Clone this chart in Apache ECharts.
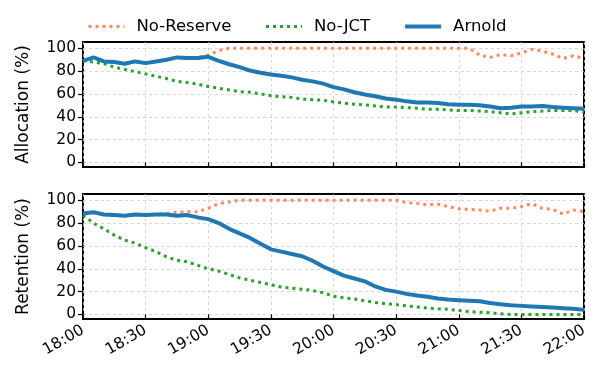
<!DOCTYPE html>
<html>
<head>
<meta charset="utf-8">
<script src="https://cdn.jsdelivr.net/npm/echarts@6/dist/echarts.min.js"></script>
<style>
    html, body {margin: 0; padding: 0; background: #fff;}
    #chart {width: 597px; height: 383px;}
</style>
</head>
<body>
<div id="chart"></div>
<script>
    // x ticks (every 30 min), samples every 5 min from 18:00
    var tickLabels = ['18:00', '18:30', '19:00', '19:30', '20:00', '20:30', '21:00', '21:30', '22:00'];
    var stepMin = 5;
    var yTicks = [0, 20, 40, 60, 80, 100];
    var seriesNames = ['No-Reserve', 'No-JCT', 'Arnold'];

    // Allocation (%)
    var allocNoReserve = [89, 92, 88.5, 88, 86.5, 88.5, 87, 88.5, 90, 92, 91.5, 92, 94, 98, 100, 100, 100, 100, 100, 100, 100, 100, 100, 100, 100,
        100, 100, 100, 100, 100, 100, 100, 100, 100, 100, 100, 100, 100, 94, 92, 94.5, 93.5, 96, 99, 97.5, 95, 91, 93.5, 91];
    var allocNoJCT = [89, 88, 86.5, 83.5, 81.5, 79.5, 77.5, 75.5, 73.5, 71, 70, 68.5, 66.5, 65, 63.5, 62, 61.5, 60, 58.5, 57.5, 57, 55.5, 55, 54.5, 53,
        52, 51, 50.5, 49.5, 48.5, 48.5, 48, 47.5, 46.5, 46.5, 46, 45.5, 45.5, 45, 44.5, 43.5, 42.5, 43.5, 44.5, 45, 45.5, 45.5, 45.5, 44];
    var allocArnold = [89, 92, 88.5, 88, 86.5, 88.5, 87, 88.5, 90, 92, 91.5, 91.5, 92.5, 89, 86, 83.5, 80.5, 78.5, 77, 76, 74.5, 72.5, 71, 69, 66,
        64, 61.5, 59.5, 58, 56, 55, 53.5, 52.5, 52.5, 52, 51, 50.5, 50.5, 50, 49, 47.5, 48, 49, 49, 49.5, 48.5, 48, 47.5, 47];

    // Retention (%)
    var retNoReserve = [88.5, 89.5, 87.5, 87, 86.5, 87.5, 87, 87.5, 88.5, 89.5, 90, 90, 93, 97, 98.5, 100, 100, 100, 100, 100, 100, 100, 100, 100, 100,
        100, 100, 100, 100, 100, 100, 98, 97.5, 96, 96.5, 94.5, 92.5, 92, 91.5, 90.5, 93, 93, 94.5, 97, 93, 92, 88, 91.5, 90];
    var retNoJCT = [87, 80, 75, 69.5, 65, 62.5, 58.5, 55, 50.5, 47.5, 46, 43, 40, 38, 35, 32, 30, 28, 26, 24, 23, 22, 21, 19, 16,
        14.5, 13.5, 12, 10.5, 9.5, 8.5, 7.5, 6.5, 5.5, 5, 4.5, 3.5, 2.5, 2, 1.5, 0.5, 0, 0, 0, 0, 0, 0, 0, 0];
    var retArnold = [88.5, 89.5, 87.5, 87, 86.5, 87.5, 87, 87.5, 87.5, 86.5, 87, 85, 83.5, 80, 75, 71, 67, 62, 57, 55, 53, 51, 47, 42, 38,
        34, 31.5, 29, 24.5, 21.5, 20, 18, 16.5, 15.5, 14, 13, 12.5, 12, 11.5, 10, 9, 8, 7.5, 7, 6.5, 6, 5.5, 5, 4];

    var colors = ['#fb8a5e', '#2ca02c', '#1f77b4'];
    var lineWidths = [3, 3, 4];
    var font = 'DejaVu Sans';

    function toPairs(arr) {
        var out = [];
        for (var i = 0; i < arr.length; i++) {
            out.push([i * stepMin, arr[i]]);
        }
        return out;
    }

    function lineStyleOf(i) {
        return {
            color: colors[i],
            width: lineWidths[i],
            type: i < 2 ? [3, 4] : 'solid',
            cap: 'butt'
        };
    }

    function makeSeries(names, datas, axisIdx) {
        var list = [];
        for (var i = 0; i < names.length; i++) {
            list.push({
                name: names[i],
                type: 'line',
                xAxisIndex: axisIdx,
                yAxisIndex: axisIdx,
                data: toPairs(datas[i]),
                showSymbol: false,
                symbol: 'none',
                animation: false,
                z: 3 + i,
                lineStyle: lineStyleOf(i),
                itemStyle: {color: colors[i]}
            });
        }
        return list;
    }

    var legendData = [];
    for (var k = 0; k < seriesNames.length; k++) {
        legendData.push({name: seriesNames[k], lineStyle: lineStyleOf(k)});
    }

    var gridLine = {show: true, lineStyle: {color: '#cccccc', width: 0.8, type: [3, 3]}};

    function xAxisOf(idx, showLabel) {
        return {
            type: 'value',
            gridIndex: idx,
            min: 0,
            max: 240,
            interval: 30,
            axisLine: {show: false},
            axisTick: {show: true, inside: false, length: 5, lineStyle: {color: '#000', width: 1.2}},
            axisLabel: {
                show: showLabel,
                rotate: 30,
                margin: 10,
                fontFamily: font,
                fontSize: 15.5,
                color: '#000',
                formatter: function (v) { return tickLabels[v / 30]; }
            },
            splitLine: gridLine
        };
    }

    function yAxisOf(idx, title) {
        return {
            type: 'value',
            gridIndex: idx,
            min: -4,
            max: 105.5,
            name: title,
            nameLocation: 'middle',
            nameGap: 51,
            nameTextStyle: {fontFamily: font, fontSize: 17, color: '#000'},
            axisLine: {show: false},
            axisTick: {show: true, inside: false, length: 5, customValues: yTicks, lineStyle: {color: '#000', width: 1.2}},
            axisLabel: {fontFamily: font, fontSize: 15.5, color: '#000', margin: 7, customValues: yTicks},
            splitLine: gridLine
        };
    }

    var chart = echarts.init(document.getElementById('chart'), null, {renderer: 'canvas'});
    var option = {
        backgroundColor: '#fff',
        animation: false,
        color: colors,
        legend: {
            data: legendData,
            left: 87,
            top: 18,
            padding: 0,
            itemWidth: 36,
            itemHeight: 14,
            itemGap: 33,
            itemStyle: {opacity: 0},
            textStyle: {fontFamily: font, fontSize: 16.5, color: '#000', padding: [0, 0, 0, 7]}
        },
        grid: [
            {left: 83, top: 42, width: 501, height: 125, show: true, borderColor: '#000', borderWidth: 2, backgroundColor: 'transparent'},
            {left: 83, top: 194, width: 501, height: 125, show: true, borderColor: '#000', borderWidth: 2, backgroundColor: 'transparent'}
        ],
        xAxis: [xAxisOf(0, false), xAxisOf(1, true)],
        yAxis: [yAxisOf(0, 'Allocation (%)'), yAxisOf(1, 'Retention (%)')],
        series: makeSeries(seriesNames, [allocNoReserve, allocNoJCT, allocArnold], 0)
            .concat(makeSeries(seriesNames, [retNoReserve, retNoJCT, retArnold], 1))
    };
    chart.setOption(option);
</script>
</body>
</html>
